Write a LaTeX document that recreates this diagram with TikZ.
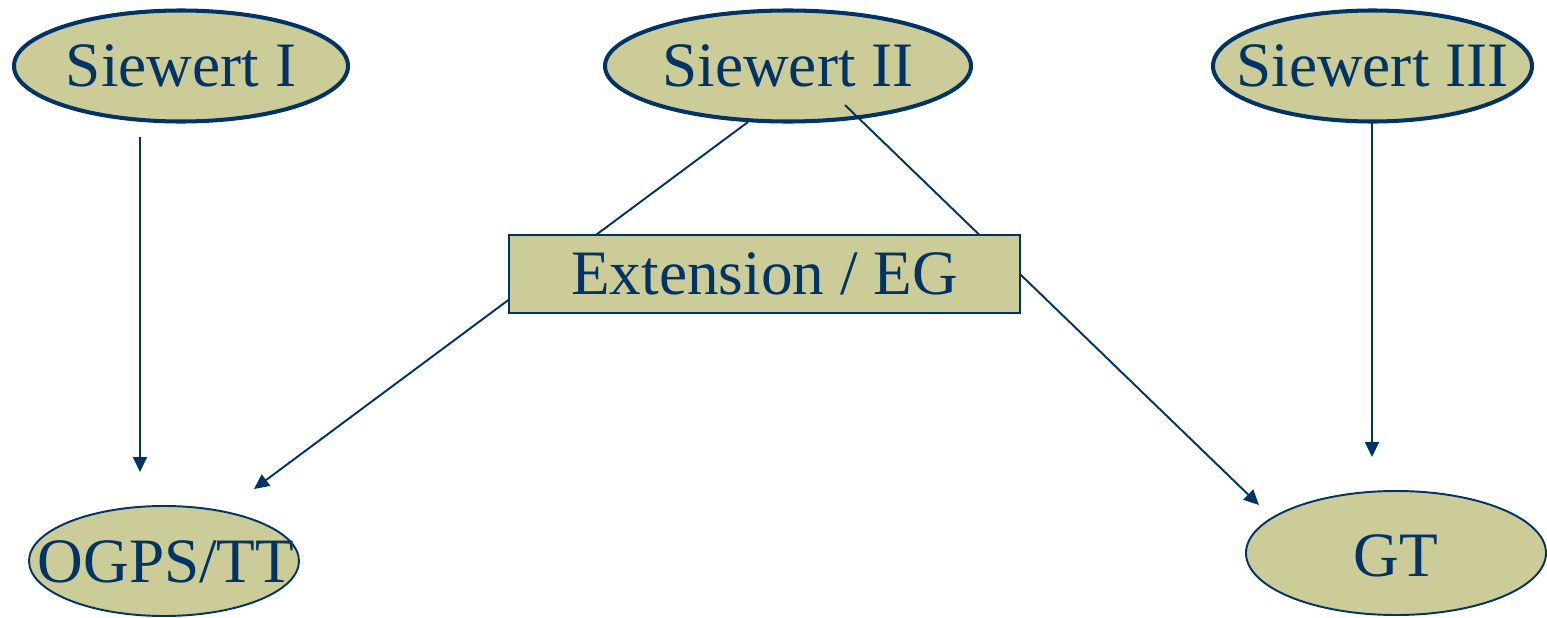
\documentclass[tikz,border=0pt]{standalone}
\usepackage{fontspec}
\setmainfont{Liberation Serif}
\usetikzlibrary{shapes.geometric,arrows.meta}
\definecolor{navy}{HTML}{003366}
\definecolor{khaki}{HTML}{CCCC99}
\begin{document}
\begin{tikzpicture}[
  lbl/.style={text=navy,font=\fontsize{36}{40}\selectfont,inner sep=0pt,text height=23.8pt,text depth=0pt},
  topell/.style={ellipse,draw=navy,fill=khaki,line width=2.3pt,inner sep=0pt,minimum height=2.22cm},
  botell/.style={ellipse,draw=navy,fill=khaki,line width=1.1pt,inner sep=0pt},
  boxnode/.style={lbl,rectangle,draw=navy,fill=khaki,line width=1.1pt,minimum width=10.22cm,minimum height=1.56cm},
  conn/.style={draw=navy,line width=1.1pt},
  arr/.style={conn,-{Triangle[length=0.3cm,width=0.28cm]}}
]
\clip (0,0) rectangle (30.94,12.34);
\fill[white] (0,0) rectangle (30.94,12.34);
% nodes
\node[topell,minimum width=6.68cm,label={[lbl]center:Siewert I}] (s1) at (3.62,11.02) {};
\node[topell,minimum width=7.32cm,label={[lbl]center:Siewert II}] (s2) at (15.76,11.02) {};
\node[topell,minimum width=6.38cm,label={[lbl]center:Siewert III}] (s3) at (27.45,11.02) {};
\node[botell,minimum width=5.40cm,minimum height=2.20cm,label={[lbl,xshift=0.04cm,yshift=-0.02cm]center:OGPS/TT}] (ogps) at (3.28,1.12) {};
\node[botell,minimum width=6.00cm,minimum height=2.48cm,label={[lbl,yshift=-0.06cm]center:GT}] (gt) at (27.92,1.28) {};
% connector end points
\coordinate (a1s) at (2.80,9.60);
\coordinate (a1e) at (2.80,2.90);
\coordinate (l2as) at (14.96,9.90);
\coordinate (l2ae) at (5.08,2.56);
\coordinate (l2bs) at (16.90,10.24);
\coordinate (l2be) at (25.18,2.24);
\coordinate (a3s) at (27.44,9.88);
\coordinate (a3e) at (27.44,3.20);
% connectors
\draw[arr] (a1s) -- (a1e);
\draw[arr] (l2as) -- (l2ae);
\draw[arr] (l2bs) -- (l2be);
\draw[arr] (a3s) -- (a3e);
% box on top of the lines
\node[boxnode] (ext) at (15.29,6.86) {Extension / EG};
\end{tikzpicture}
\end{document}
